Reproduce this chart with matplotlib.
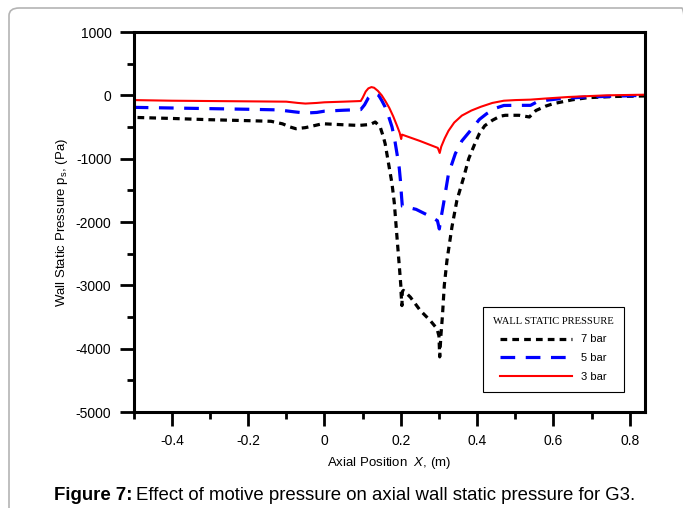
import numpy as np
import matplotlib
matplotlib.use('Agg')
import matplotlib.pyplot as plt
from matplotlib.patches import FancyBboxPatch
from matplotlib.ticker import MultipleLocator

matplotlib.rcParams['font.family'] = ['Liberation Sans', 'DejaVu Sans']
matplotlib.rcParams['mathtext.fontset'] = 'custom'
matplotlib.rcParams['mathtext.rm'] = 'Liberation Sans'
matplotlib.rcParams['mathtext.it'] = 'Liberation Sans:italic'

# -- values (x in m, pressure in Pa) --
x7bar = [-0.49, -0.4, -0.3, -0.2, -0.14, -0.11, -0.09, -0.075, -0.05, -0.035, -0.01, 0.0,
         0.05, 0.09, 0.12, 0.133, 0.146, 0.154, 0.159, 0.168, 0.177, 0.183, 0.190, 0.197,
         0.200, 0.201, 0.203, 0.204, 0.207, 0.225, 0.251, 0.277, 0.295, 0.300, 0.302, 0.305,
         0.309, 0.314, 0.321, 0.334, 0.347, 0.365, 0.378, 0.395, 0.406, 0.42, 0.44, 0.46,
         0.474, 0.51, 0.537, 0.554, 0.58, 0.6, 0.65, 0.69, 0.76, 0.84]
p7bar = [-350, -365, -385, -400, -410, -450, -500, -527, -510, -490, -455, -450,
         -465, -475, -460, -421, -500, -650, -764, -1080, -1395, -1700, -2238, -2765,
         -3000, -3150, -3320, -3100, -3080, -3186, -3397, -3555, -3686, -3800, -4130, -3800,
         -3495, -3000, -2607, -2080, -1659, -1290, -1000, -750, -604, -480, -394, -330,
         -315, -315, -342, -240, -170, -131, -70, -37, -18, -10]

x5bar = [-0.5, -0.4, -0.3, -0.2, -0.12, -0.08, -0.05, -0.02, 0.0, 0.05, 0.095, 0.105,
         0.115, 0.125, 0.133, 0.142, 0.150, 0.159, 0.168, 0.177, 0.184, 0.190, 0.196,
         0.199, 0.202, 0.204, 0.24, 0.28, 0.296, 0.301, 0.305, 0.312, 0.325, 0.334,
         0.343, 0.36, 0.382, 0.406, 0.425, 0.45, 0.47, 0.5, 0.54, 0.555, 0.585, 0.617,
         0.686, 0.774, 0.84]
p5bar = [-190, -200, -210, -220, -230, -260, -280, -270, -250, -235, -225, -150,
         -40, 15, 25, 0, -80, -184, -330, -500, -700, -920, -1150,
         -1343, -1600, -1750, -1800, -1920, -1980, -2110, -1950, -1712, -1238, -1080,
         -920, -720, -560, -380, -290, -200, -160, -158, -158, -110, -75, -53,
         -26, -11, 0]

x3bar = [-0.5, -0.4, -0.3, -0.2, -0.1, -0.07, -0.05, -0.02, 0.0, 0.05, 0.095, 0.100,
         0.108, 0.115, 0.123, 0.130, 0.140, 0.150, 0.160, 0.170, 0.180, 0.190, 0.197,
         0.201, 0.203, 0.250, 0.297, 0.302, 0.306, 0.315, 0.325, 0.340, 0.360, 0.385,
         0.41, 0.44, 0.47, 0.50, 0.54, 0.58, 0.64, 0.70, 0.74, 0.84]
p3bar = [-75, -85, -90, -95, -100, -120, -130, -120, -110, -100, -90, -40,
         60, 110, 130, 120, 70, 0, -95, -200, -330, -480, -590,
         -690, -620, -720, -830, -910, -810, -680, -560, -430, -320, -240,
         -180, -120, -85, -75, -68, -50, -26, -10, 0, 10]

labels = ['7 bar', '5 bar', '3 bar']
legendTitle = 'WALL STATIC PRESSURE'
caption = 'Effect of motive pressure on axial wall static pressure for G3.'

fig = plt.figure(figsize=(6.83, 5.08), dpi=100)

# light rounded frame round the whole figure
frame = FancyBboxPatch((9/683., -0.1), 1.0, 1.1 - 8/508., boxstyle='round,pad=0,rounding_size=0.015',
                       transform=fig.transFigure, fill=False, ec='#b4b4b4', lw=1.2)
fig.patches.append(frame)

ax = fig.add_axes([133.7/683, (508-412)/508., (645-133.7)/683, (412-32)/508.])

ax.plot(x7bar, p7bar, color='k', lw=2.3, dashes=(2.1, 1.6), label=labels[0])
ax.plot(x5bar, p5bar, color='#0000ff', lw=2.3, dashes=(4.6, 3.3), label=labels[1])
ax.plot(x3bar, p3bar, color='#ff0000', lw=1.5, label=labels[2])

ax.set_xlim(-0.5, 0.84)
ax.set_ylim(-5000, 1000)
ax.xaxis.set_major_locator(MultipleLocator(0.2))
ax.xaxis.set_minor_locator(MultipleLocator(0.1))
ax.yaxis.set_major_locator(MultipleLocator(1000))
ax.yaxis.set_minor_locator(MultipleLocator(500))
ax.set_xticks([-0.4, -0.2, 0, 0.2, 0.4, 0.6, 0.8])
ax.set_xticklabels(['-0.4', '-0.2', '0', '0.2', '0.4', '0.6', '0.8'])
ax.set_yticks(range(-5000, 1001, 1000))
ax.set_yticklabels([str(v) for v in range(-5000, 1001, 1000)])
ax.tick_params(which='major', direction='out', length=10, width=2, labelsize=10, pad=6)
ax.tick_params(which='minor', direction='out', length=5, width=2)
for sp in ax.spines.values():
    sp.set_linewidth(2.2)

ax.set_ylabel('Wall Static Pressure p$_\\mathrm{s}$, (Pa)', fontsize=9.5, labelpad=4)
ax.set_xlabel('Axial Position  $\\mathit{X}$, (m)', fontsize=9.5, labelpad=5)

leg = ax.legend(loc='lower left', bbox_to_anchor=(0.683, 0.052), fontsize=8, title=legendTitle,
                handlelength=6.5, fancybox=False, framealpha=1, edgecolor='k',
                borderpad=0.9, labelspacing=0.8, handletextpad=0.8, borderaxespad=0)
leg.get_title().set_fontfamily('Liberation Serif')
leg.get_title().set_fontsize(7.6)
leg.get_frame().set_linewidth(0.8)

t1 = fig.text(54/683., 1 - 495/508., 'Figure 7:', fontsize=13.4, fontweight='bold', va='center')
fig.canvas.draw()
bb = t1.get_window_extent()
fig.text(bb.x1/683. + 4/683., 1 - 495/508., caption, fontsize=13.4, va='center')

fig.savefig('out.png', dpi=100)
